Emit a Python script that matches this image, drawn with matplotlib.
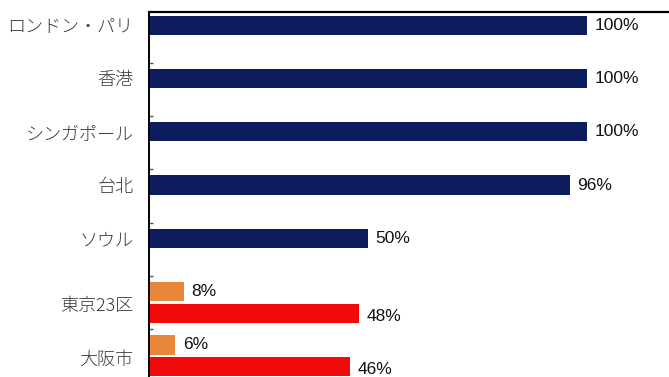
import numpy as np
import matplotlib
matplotlib.use('Agg')
import matplotlib.pyplot as plt

plt.rcParams['font.family'] = ['Noto Sans CJK JP', 'DejaVu Sans']

cities = ['ロンドン・パリ', '香港', 'シンガポール', '台北', 'ソウル', '東京23区', '大阪市']
upper_vals = [100, 100, 100, 96, 50, 8, 6]
lower_vals = [None, None, None, None, None, 48, 46]
upper_colors = ['#0c1c5c'] * 5 + ['#e8873a'] * 2
lower_color = '#f20a0a'

off = 0.205
h = 0.36
y = np.arange(len(cities))

fig = plt.figure(figsize=(6.69, 3.77), dpi=100)
ax = fig.add_axes([148.7 / 669, 0, (669 - 148.7) / 669, (377 - 12.3) / 377])

ax.barh(y - off, upper_vals, height=h, color=upper_colors)
ly = [yy + off for yy, v in zip(y, lower_vals) if v is not None]
lv = [v for v in lower_vals if v is not None]
ax.barh(ly, lv, height=h, color=lower_color)

# value labels
for yy, v in zip(y - off, upper_vals):
    ax.annotate(f'{v}%', (v, yy), xytext=(5.5, 0), textcoords='offset points',
                va='center', ha='left', fontsize=12.5, family='Liberation Sans', color='#111111')
for yy, v in zip(ly, lv):
    ax.annotate(f'{v}%', (v, yy), xytext=(5.5, -2), textcoords='offset points',
                va='center', ha='left', fontsize=12.5, family='Liberation Sans', color='#111111')

ax.set_xlim(0, (669 - 148.7) / 4.386)
ax.set_ylim(-0.5 + (377 - 9.4) / 53.3, -0.446)

# city labels: on the bar for single bars, mid-category for pairs
label_pos = [yy - off for yy in y[:5]] + [yy + 0.03 for yy in y[5:]]
ax.set_yticks(label_pos)
ax.set_yticklabels(cities, fontsize=13, color='#3a3a3a', fontweight='light')
ax.tick_params(axis='y', which='major', length=0, pad=11)
ax.set_yticks(np.arange(0.5, 6, 1), minor=True)
ax.tick_params(axis='y', which='minor', direction='in', length=3, width=1, color='#555555')
ax.set_xticks([])

for s in ['right', 'bottom']:
    ax.spines[s].set_visible(False)
ax.spines['top'].set_linewidth(1.6)
ax.spines['left'].set_linewidth(1.4)

fig.savefig('out.png', dpi=100)
